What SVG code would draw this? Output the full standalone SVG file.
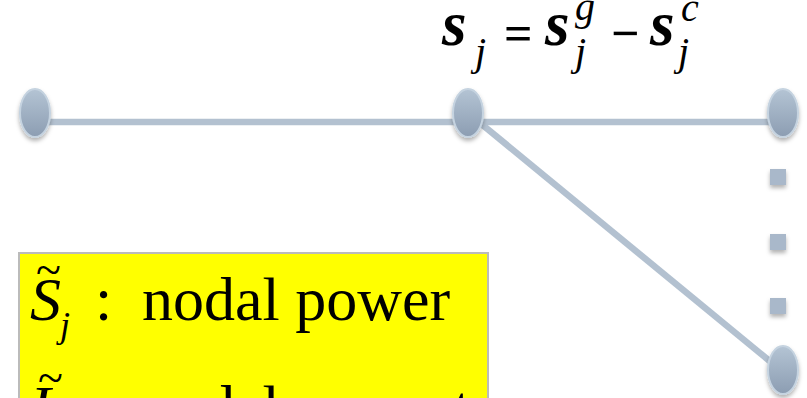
<svg xmlns="http://www.w3.org/2000/svg" width="807" height="398" viewBox="0 0 807 398">
<style>
.edge{stroke:#B3C1D0;stroke-width:6.5;fill:none}
.node{fill:url(#ng);stroke:#C5D3E0;stroke-width:2;filter:url(#sh)}
.dot{fill:#A9B8CA;filter:url(#sh)}
.m{font-family:"Liberation Serif","Times New Roman",serif;fill:#000}
.v{font-size:63px;font-style:italic;font-weight:bold}
.s{font-size:40px;font-style:italic}
.o{font-size:50px;font-weight:bold}
</style>
<defs>
<linearGradient id="ng" x1="0" y1="0" x2="0" y2="1">
<stop offset="0" stop-color="#B4C4D4"/>
<stop offset="1" stop-color="#8C9DB2"/>
</linearGradient>
<filter id="sh" x="-50%" y="-50%" width="200%" height="200%">
<feDropShadow dx="0" dy="3" stdDeviation="2" flood-color="#000" flood-opacity="0.3"/>
</filter>
</defs>
<g id="formula" class="m">
<text class="v" x="442" y="45">s</text>
<text class="s" x="475" y="65">j</text>
<text class="o" x="504" y="50">=</text>
<text class="v" x="545" y="45">s</text>
<text class="s" x="575" y="20">g</text>
<text class="s" x="575" y="65">j</text>
<text class="o" x="611" y="50">−</text>
<text class="v" x="650" y="45">s</text>
<text class="s" x="681" y="21">c</text>
<text class="s" x="678" y="65">j</text>
</g>
<g id="connectors">
<line class="edge" x1="35" y1="122" x2="783" y2="122"/>
<line class="edge" x1="468" y1="113" x2="783" y2="372"/>
</g>
<g id="node1"><ellipse class="node" cx="35" cy="113" rx="15" ry="24"/></g>
<g id="node2"><ellipse class="node" cx="468" cy="113" rx="15" ry="24"/></g>
<g id="node3"><ellipse class="node" cx="783" cy="113" rx="15" ry="24"/></g>
<g id="node4"><ellipse class="node" cx="783" cy="370" rx="15" ry="24"/></g>
<g id="dots">
<rect class="dot" x="770" y="169" width="16" height="16"/>
<rect class="dot" x="770" y="234" width="16" height="16"/>
<rect class="dot" x="770" y="298" width="16" height="16"/>
</g>
<g id="legend">
<rect x="19" y="253" width="469" height="170" fill="#FFFF00" stroke="#BBBBBB" stroke-width="2"/>
<text class="m" x="30" y="320" font-size="62" font-style="italic">S</text>
<text class="m" x="36" y="285" font-size="46">~</text>
<text class="m" x="60" y="337" font-size="36" font-style="italic">j</text>
<text class="m" x="95" y="320" font-size="62">:</text>
<text class="m" x="142" y="320" font-size="62">nodal power</text>
<text class="m" x="30" y="428" font-size="62" font-style="italic">I</text>
<text class="m" x="38" y="393" font-size="46">~</text>
<text class="m" x="60" y="445" font-size="36" font-style="italic">j</text>
<text class="m" x="95" y="428" font-size="62">:</text>
<text class="m" x="142" y="428" font-size="62">nodal current</text>
</g>
</svg>
